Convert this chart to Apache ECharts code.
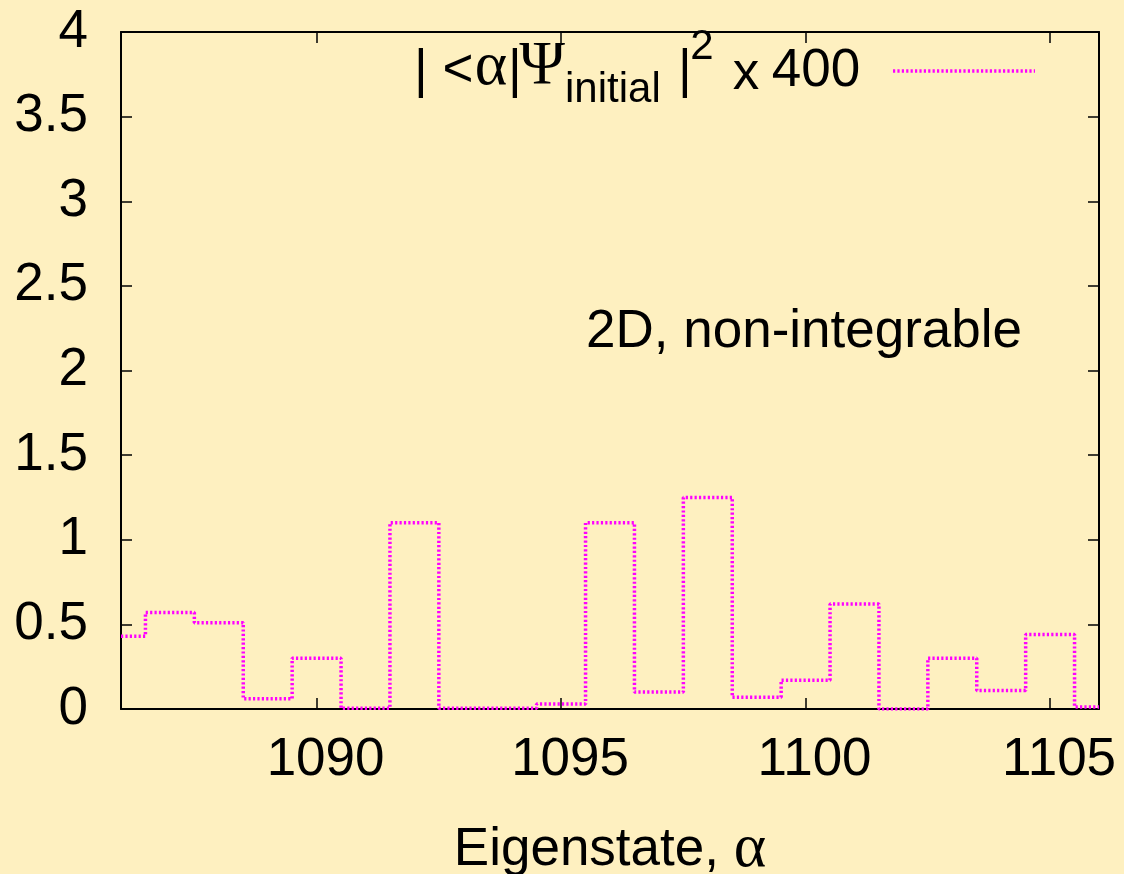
<!DOCTYPE html>
<html>
<head>
<meta charset="utf-8">
<script src="https://cdn.jsdelivr.net/npm/echarts@6/dist/echarts.min.js"></script>
<style>
  html, body { margin: 0; padding: 0; background: #fef0c0; }
  #chart { width: 1124px; height: 874px; }
</style>
</head>
<body>
<div id="chart"></div>
<script>
// Eigenstate index and overlap weights |<alpha|Psi_initial>|^2 x 400
const eigenstates = [1086, 1087, 1088, 1089, 1090, 1091, 1092, 1093, 1094, 1095, 1096,
                     1097, 1098, 1099, 1100, 1101, 1102, 1103, 1104, 1105, 1106];
const overlap = [0.43, 0.57, 0.51, 0.06, 0.30, 0.005, 1.10, 0.005, 0.005, 0.03, 1.10,
                 0.10, 1.25, 0.07, 0.17, 0.62, 0.0, 0.30, 0.11, 0.44, 0.012];
const xTicks = [1090, 1095, 1100, 1105];
const xRange = [1086, 1106];
const yRange = [0, 4];
const yStep = 0.5;

const SANS = '"Liberation Sans", Arial, Helvetica, sans-serif';
const SERIF = '"Liberation Serif", "DejaVu Serif", serif';
const FS = 53;
const FS_SMALL = 42;
const FS_GREEK = 62;

const chart = echarts.init(document.getElementById('chart'), null, { renderer: 'canvas' });

const axisLine = { show: true, onZero: false, lineStyle: { color: '#000', width: 2 } };
const tickIn = { show: true, inside: true, length: 11, lineStyle: { color: '#000', width: 1.5 } };

const text = (t, x, y, opts) => Object.assign({
  type: 'text', x: x, y: y,
  style: Object.assign({ text: t, fill: '#000', font: FS + 'px ' + SANS, align: 'center', verticalAlign: 'middle' }, opts || {})
});

const option = {
  backgroundColor: '#fef0c0',
  animation: false,
  grid: { left: 121, right: 25, top: 32, bottom: 165, containLabel: false, outerBoundsMode: 'none' },
  xAxis: [
    {
      type: 'value', min: xRange[0], max: xRange[1], position: 'bottom',
      axisLine: axisLine,
      axisTick: Object.assign({ customValues: xTicks }, tickIn),
      axisLabel: {
        customValues: xTicks, margin: 25, color: '#000', fontSize: FS, fontFamily: SANS,
        padding: [0, 0, 0, 18],
        formatter: v => String(v)
      },
      splitLine: { show: false },
      name: '{a|Eigenstate, }{g|α}',
      nameLocation: 'middle', nameGap: 110,
      nameTextStyle: {
        rich: {
          a: { fontSize: FS, fontFamily: SANS, color: '#000' },
          g: { fontSize: FS_GREEK, fontFamily: SERIF, color: '#000' }
        }
      }
    },
    {
      type: 'value', min: xRange[0], max: xRange[1], position: 'top',
      axisLine: axisLine,
      axisTick: Object.assign({ customValues: xTicks }, tickIn),
      axisLabel: { show: false },
      splitLine: { show: false }
    }
  ],
  yAxis: [
    {
      type: 'value', min: yRange[0], max: yRange[1], interval: yStep, position: 'left',
      axisLine: axisLine, axisTick: tickIn,
      axisLabel: { margin: 33, color: '#000', fontSize: FS, fontFamily: SANS },
      splitLine: { show: false }
    },
    {
      type: 'value', min: yRange[0], max: yRange[1], interval: yStep, position: 'right',
      axisLine: axisLine, axisTick: tickIn,
      axisLabel: { show: false },
      splitLine: { show: false }
    }
  ],
  series: [
    {
      name: 'overlap',
      type: 'line',
      step: 'middle',
      xAxisIndex: 0, yAxisIndex: 0,
      showSymbol: false,
      data: eigenstates.map((e, i) => [e, overlap[i]]),
      lineStyle: { color: '#ff00ff', width: 3.5, type: [2.2, 2.2], cap: 'butt' },
      clip: true
    }
  ],
  graphic: [
    // key entry: | <alpha|Psi_initial |^2 x 400
    text('|', 421, 72),
    text('<', 458, 71),
    text('α', 491, 68, { font: FS_GREEK + 'px ' + SERIF }),
    text('|', 515, 72),
    text('Ψ', 542, 67, { font: FS_GREEK + 'px ' + SERIF }),
    text('initial', 565, 90, { font: FS_SMALL + 'px ' + SANS, align: 'left' }),
    text('|', 685, 72),
    text('2', 702, 47, { font: FS_SMALL + 'px ' + SANS }),
    text('x', 746, 74),
    text('400', 816, 71),
    {
      type: 'line',
      shape: { x1: 893, y1: 71, x2: 1035, y2: 71 },
      style: { stroke: '#ff00ff', lineWidth: 3.5, lineDash: [2.2, 2.2] }
    },
    text('2D, non-integrable', 586, 332, { align: 'left' })
  ]
};

chart.setOption(option);
</script>
</body>
</html>
